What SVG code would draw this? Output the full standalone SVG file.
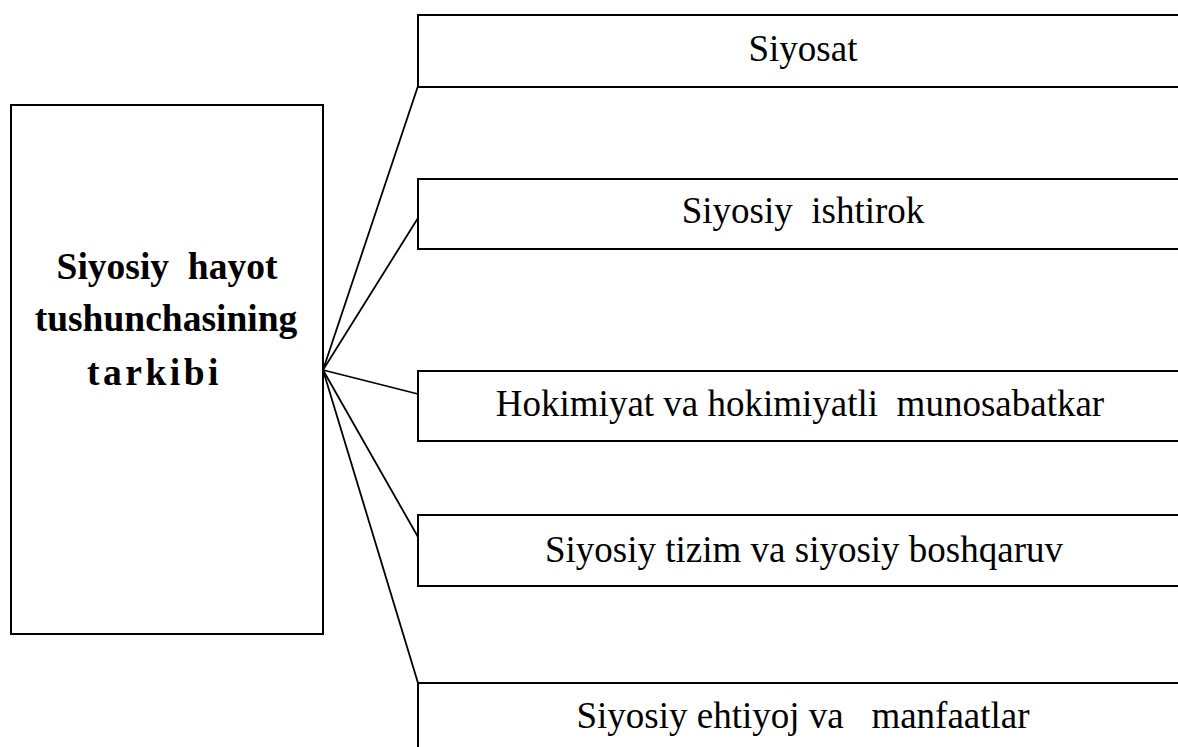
<svg xmlns="http://www.w3.org/2000/svg" width="1178" height="747" viewBox="0 0 1178 747">
<style>
.box{fill:#fff;stroke:#000;stroke-width:2}
.t{font-family:"Liberation Serif","Times New Roman",serif;font-size:37px;fill:#000;text-anchor:middle}
.b{font-weight:bold;font-size:37.5px}
.c{stroke:#000;stroke-width:1.8;fill:none}
</style>
<rect width="1178" height="747" fill="#fff"/>
<g id="main">
<rect class="box" x="11" y="105" width="312" height="529"/>
<text class="t b" x="167" y="279" xml:space="preserve">Siyosiy  hayot</text>
<text class="t b" x="166" y="331">tushunchasining</text>
<text class="t b" x="87" y="385" letter-spacing="3.5" style="text-anchor:start">tarkibi</text>
</g>
<g id="n1">
<rect class="box" x="418" y="15" width="800" height="72"/>
<text class="t" x="803" y="61">Siyosat</text>
</g>
<g id="n2">
<rect class="box" x="418" y="179" width="800" height="70"/>
<text class="t" x="803" y="223" xml:space="preserve">Siyosiy  ishtirok</text>
</g>
<g id="n3">
<rect class="box" x="418" y="371" width="800" height="70"/>
<text class="t" x="800" y="416" xml:space="preserve">Hokimiyat va hokimiyatli  munosabatkar</text>
</g>
<g id="n4">
<rect class="box" x="418" y="515" width="800" height="71"/>
<text class="t" x="804" y="562">Siyosiy tizim va siyosiy boshqaruv</text>
</g>
<g id="n5">
<rect class="box" x="418" y="683" width="800" height="100"/>
<text class="t" x="803" y="728" xml:space="preserve">Siyosiy ehtiyoj va   manfaatlar</text>
</g>
<g id="connectors">
<line class="c" x1="323" y1="370" x2="418" y2="86"/>
<line class="c" x1="323" y1="370" x2="418" y2="218"/>
<line class="c" x1="323" y1="370" x2="418" y2="394"/>
<line class="c" x1="323" y1="370" x2="418" y2="537"/>
<line class="c" x1="323" y1="370" x2="418" y2="683"/>
</g>
</svg>
